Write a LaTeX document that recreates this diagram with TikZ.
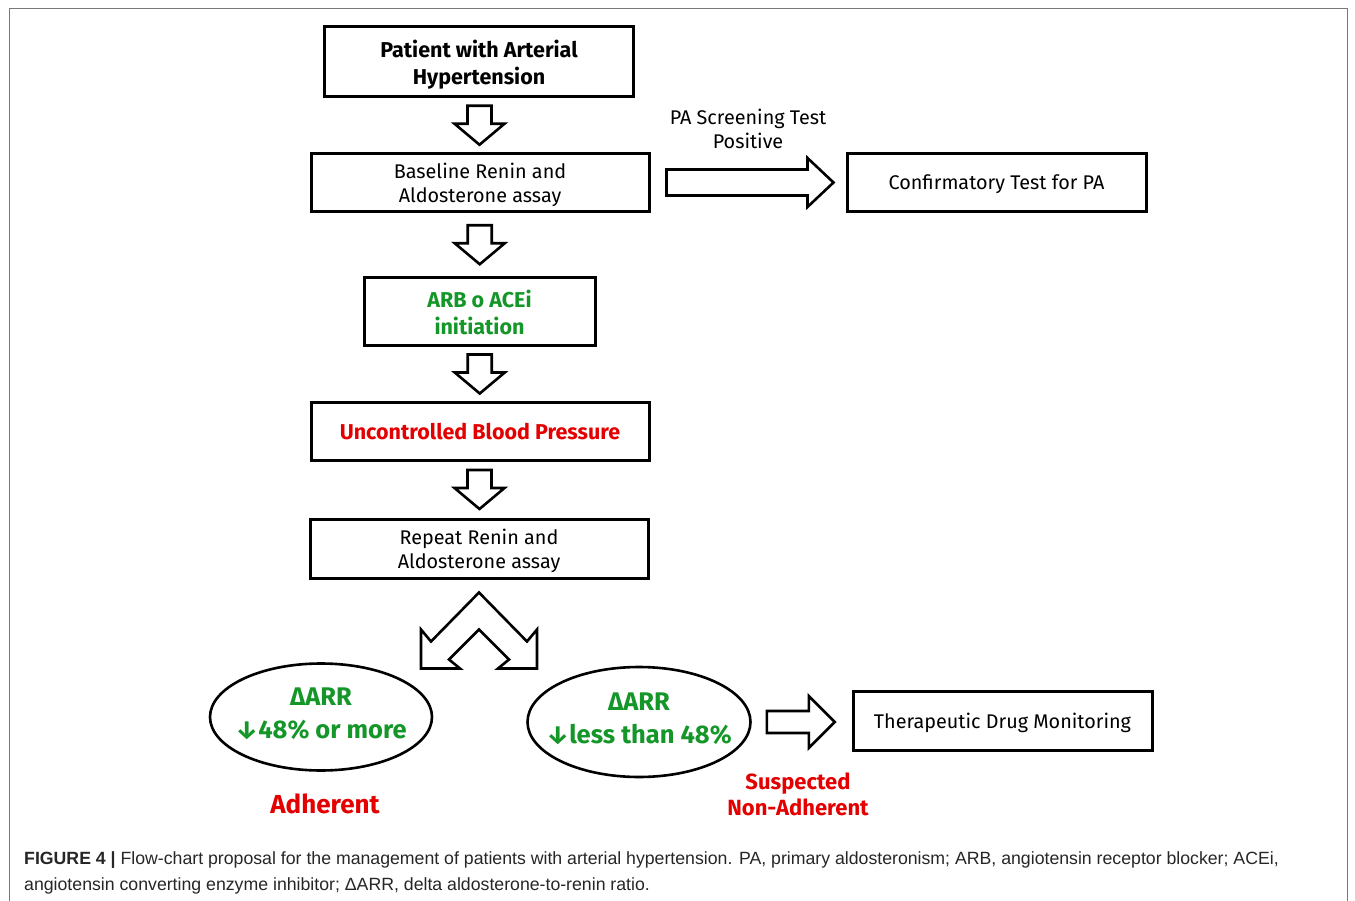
\documentclass[tikz,border=0pt]{standalone}
\usepackage{fontspec}
\setmainfont{Fira Sans}
\newfontfamily\capfont{Liberation Sans}
\usetikzlibrary{shapes.geometric,calc}
\definecolor{dgreen}{RGB}{20,150,40}
\definecolor{dred}{RGB}{228,0,0}
\definecolor{frame}{RGB}{120,120,120}
\tikzset{
  box/.style={draw, line width=3pt, inner sep=0pt, align=center, text depth=0pt, font=\fontsize{19.8}{24}\selectfont},
  bbox/.style={box, font=\fontsize{21.5}{27}\selectfont\bfseries},
  oval/.style={draw, ellipse, line width=2.6pt, inner sep=0pt},
  ovtext/.style={align=center, inner sep=0pt, text=dgreen, font=\fontsize{25.5}{33}\selectfont\bfseries},
  blk/.style={draw, line width=2.6pt, fill=white, line join=miter},
  lbl/.style={align=center, inner sep=0pt},
}
\newcommand{\downblk}[2]{\draw[blk] ($(#1.south)!0.5!(#2.north)$) ++(-12,-19.5) -- ++(24,0) -- ++(0,18) -- ++(13,0) -- ++(-25,21) -- ++(-25,-21) -- ++(13,0) -- cycle;}
\begin{document}
\begin{tikzpicture}[x=1pt,y=-1pt]
\useasboundingbox (0,0) rectangle (1355,901);
\draw[frame, line width=1pt] (9,901) -- (9,8.5) -- (1347,8.5) -- (1347,901);

\node[bbox, minimum width=309, minimum height=70] (b1) at (479,62) {Patient with Arterial\\Hypertension};
\node[box, minimum width=338, minimum height=58] (b2) at (480,182.5) {Baseline Renin and\\Aldosterone assay};
\node[box, minimum width=299, minimum height=58] (conf) at (996.5,182.5) {Confirmatory Test for PA};
\node[lbl, font=\fontsize{19.8}{24}\selectfont] (pa) at (748,129) {PA Screening Test\\Positive};
\node[bbox, text=dgreen, minimum width=231, minimum height=68] (b3) at (479.5,312) {ARB o ACEi\\initiation};
\node[bbox, text=dred, minimum width=338, minimum height=58] (b4) at (480,431) {Uncontrolled Blood Pressure};
\node[box, minimum width=338, minimum height=59] (b5) at (479,548.5) {Repeat Renin and\\Aldosterone assay};

\node[oval, minimum width=222, minimum height=107] (e1) at (321,717) {};
\node[ovtext] (t1) at ($(e1.center)+(0,-3)$) {ΔARR\\\textdownarrow48\% or more};
\node[oval, minimum width=223, minimum height=110] (e2) at (639,722) {};
\node[ovtext] (t2) at ($(e2.center)+(0,-3)$) {ΔARR\\\textdownarrow less than 48\%};
\node[box, minimum width=299, minimum height=59] (tdm) at (1002.5,720.5) {Therapeutic Drug Monitoring};

\node[lbl, text=dred, font=\fontsize{26}{30}\selectfont\bfseries] (adh) at (325,804) {Adherent};
\node[lbl, text=dred, font=\fontsize{22}{26}\selectfont\bfseries] (nadh) at (798,794) {Suspected\\Non-Adherent};

\downblk{b1}{b2}
\downblk{b2}{b3}
\downblk{b3}{b4}
\downblk{b4}{b5}

\draw[blk] ($(b2.east)+(16,-13)$) -- ++(141,0) -- ++(0,-11.5) -- ++(26,24.5) -- ++(-26,24.5) -- ++(0,-11.5) -- ++(-141,0) -- cycle;
\draw[blk] ($(e2.east)+(15,-11)$) -- ++(42,0) -- ++(0,-15) -- ++(26,26) -- ++(-26,26) -- ++(0,-15) -- ++(-42,0) -- cycle;

\begin{scope}[shift={(b5.south)}]
\draw[blk] (0,13) -- (48,62) -- (58,50) -- (58,89) -- (19,89) -- (30,80) -- (0,50) -- (-30,80) -- (-19,89) -- (-58,89) -- (-58,50) -- (-48,62) -- cycle;
\end{scope}

\node[anchor=west, inner sep=0pt, font=\capfont\fontsize{17.7}{26}\selectfont, text=black!85] (cap1) at (24,860) {\textbf{FIGURE 4 |} Flow-chart proposal for the management of patients with arterial hypertension. PA, primary aldosteronism; ARB, angiotensin receptor blocker; ACEi,};
\node[anchor=west, inner sep=0pt, font=\capfont\fontsize{17.7}{26}\selectfont, text=black!85] (cap2) at (24,886) {angiotensin converting enzyme inhibitor; ΔARR, delta aldosterone-to-renin ratio.};
\end{tikzpicture}
\end{document}
